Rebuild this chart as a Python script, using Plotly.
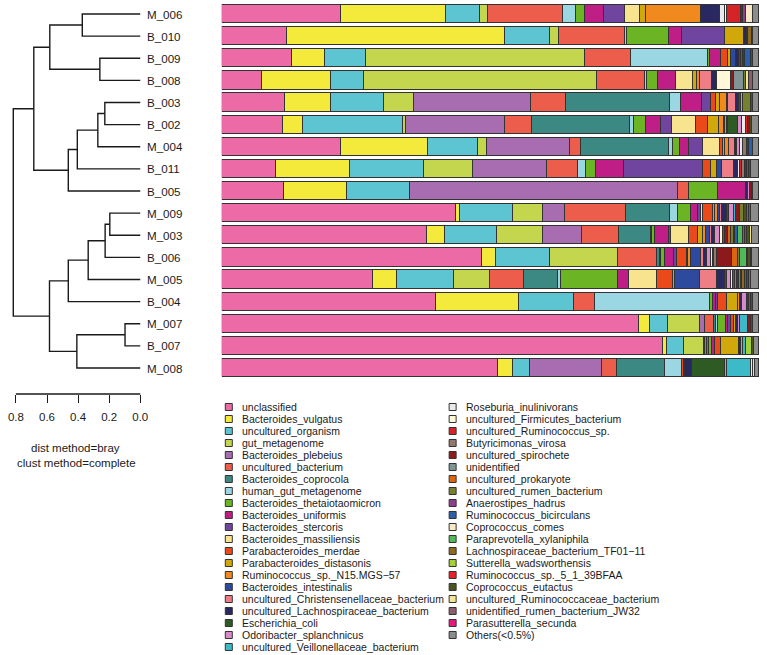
import plotly.graph_objects as go

W, H = 767, 655

samples = ['M_006', 'B_010', 'B_009', 'B_008', 'B_003', 'B_002', 'M_004', 'B_011', 'B_005',
           'M_009', 'M_003', 'B_006', 'M_005', 'B_004', 'M_007', 'B_007', 'M_008']

species = ['unclassified', 'Bacteroides_vulgatus', 'uncultured_organism', 'gut_metagenome',
           'Bacteroides_plebeius', 'uncultured_bacterium', 'Bacteroides_coprocola',
           'human_gut_metagenome', 'Bacteroides_thetaiotaomicron', 'Bacteroides_uniformis',
           'Bacteroides_stercoris', 'Bacteroides_massiliensis', 'Parabacteroides_merdae',
           'Parabacteroides_distasonis', 'Ruminococcus_sp._N15.MGS\u221257', 'Bacteroides_intestinalis',
           'uncultured_Christensenellaceae_bacterium', 'uncultured_Lachnospiraceae_bacterium',
           'Escherichia_coli', 'Odoribacter_splanchnicus', 'uncultured_Veillonellaceae_bacterium',
           'Roseburia_inulinivorans', 'uncultured_Firmicutes_bacterium', 'uncultured_Ruminococcus_sp.',
           'Butyricimonas_virosa', 'uncultured_spirochete', 'unidentified', 'uncultured_prokaryote',
           'uncultured_rumen_bacterium', 'Anaerostipes_hadrus', 'Ruminococcus_bicirculans',
           'Coprococcus_comes', 'Paraprevotella_xylaniphila', 'Lachnospiraceae_bacterium_TF01\u221211',
           'Sutterella_wadsworthensis', 'Ruminococcus_sp._5_1_39BFAA', 'Coprococcus_eutactus',
           'uncultured_Ruminococcaceae_bacterium', 'unidentified_rumen_bacterium_JW32',
           'Parasutterella_secunda', 'Others(<0.5%)']

colors = ['#EC6AA5', '#F4EA3B', '#5DC4D1', '#C4D54E', '#A86DB0', '#EC5E4B', '#3C8883',
          '#9BD7E3', '#6BB524', '#C01E87', '#6F45A0', '#F8E38E', '#EA4A1A', '#D1A80B',
          '#F18A1E', '#2D4A9F', '#EE7D86', '#2A2860', '#2E5B23', '#D98BC9', '#3DBAC7',
          '#EAEAEA', '#FFF8D8', '#D52428', '#8F7B6E', '#8C1A1C', '#7F9494', '#DC660F',
          '#76802F', '#8E3E8E', '#2C5FAA', '#F7E9C6', '#52B85C', '#8D6A1F', '#A3D037',
          '#E8202A', '#4D5222', '#F1E596', '#8C5E6C', '#E5187E', '#8C8C8C']

# relative abundance (%) per sample, keys = index into species (legend order)
M_006 = {0: 22.2, 1: 19.4, 2: 6.3, 3: 1.5, 5: 14.0, 7: 2.3, 8: 1.7, 9: 3.6, 10: 3.8, 11: 2.9,
         13: 1.0, 14: 10.3, 17: 3.6, 21: 0.8, 22: 0.5, 23: 2.5, 25: 0.4, 29: 0.6, 31: 1.3, 40: 1.1}
B_010 = {0: 12.1, 1: 40.4, 2: 8.4, 3: 1.6, 5: 12.3, 7: 0.4, 8: 7.8, 9: 2.4, 10: 8.0, 13: 3.5,
         17: 0.5, 29: 0.3, 33: 0.6, 36: 0.3, 40: 1.1}
B_009 = {0: 12.8, 1: 6.1, 2: 7.5, 3: 40.2, 5: 8.5, 7: 14.1, 8: 0.4, 9: 2.0, 12: 1.3, 13: 0.5,
         15: 1.0, 17: 0.5, 18: 0.3, 23: 0.4, 25: 0.4, 30: 1.1, 36: 0.4, 40: 1.1}
B_008 = {0: 7.2, 1: 12.4, 2: 5.9, 3: 41.8, 5: 8.5, 7: 0.4, 8: 1.9, 9: 3.2, 11: 3.2, 13: 0.6,
         14: 0.6, 16: 2.1, 17: 0.9, 22: 2.6, 25: 0.5, 26: 1.7, 28: 0.4, 37: 0.5, 38: 0.8, 40: 1.1}
B_003 = {0: 11.5, 1: 8.3, 2: 9.8, 3: 5.4, 4: 21.3, 5: 6.5, 6: 19.0, 7: 1.9, 9: 3.9, 10: 1.6,
         12: 1.0, 13: 0.6, 14: 1.3, 15: 0.3, 16: 1.3, 17: 0.6, 18: 0.3, 19: 0.4, 28: 1.5,
         36: 0.4, 40: 1.1}
B_002 = {0: 11.2, 1: 3.6, 2: 18.1, 3: 0.6, 4: 18.0, 5: 5.0, 6: 17.9, 7: 0.6, 8: 2.2, 9: 2.8,
         10: 2.1, 11: 4.2, 12: 2.2, 13: 2.0, 14: 0.9, 15: 0.3, 16: 0.3, 17: 0.3, 18: 1.8,
         19: 0.6, 21: 0.8, 23: 0.4, 25: 0.3, 36: 0.3, 40: 1.4}
M_004 = {0: 21.4, 1: 15.7, 2: 9.0, 3: 1.7, 4: 14.9, 5: 2.0, 6: 15.9, 7: 0.8, 8: 1.3, 9: 1.5,
         10: 2.5, 11: 3.2, 12: 0.4, 13: 0.4, 14: 0.7, 16: 1.1, 17: 0.4, 19: 0.5, 21: 0.6,
         24: 0.7, 25: 0.3, 30: 0.8, 40: 1.1}
B_011 = {0: 9.8, 1: 13.4, 2: 13.5, 3: 8.9, 4: 13.4, 5: 5.6, 7: 1.5, 8: 1.9, 9: 5.1, 10: 14.3,
         12: 1.5, 13: 1.0, 15: 0.9, 16: 2.3, 17: 0.6, 21: 0.5, 23: 0.3, 24: 0.5, 25: 0.3,
         30: 0.5, 36: 0.3, 40: 1.5}
B_005 = {0: 11.5, 1: 11.7, 2: 11.7, 4: 49.7, 5: 2.0, 8: 5.4, 9: 5.1, 17: 0.4, 19: 0.4,
         25: 0.3, 36: 0.3, 40: 1.1}
M_009 = {0: 43.4, 1: 0.7, 2: 9.8, 3: 5.6, 4: 4.1, 5: 11.3, 6: 8.1, 7: 1.4, 8: 2.4, 9: 1.3,
         10: 0.6, 11: 0.3, 12: 1.9, 13: 0.5, 14: 0.4, 15: 0.5, 16: 0.4, 17: 0.8, 18: 0.4,
         19: 1.0, 20: 0.3, 25: 0.8, 28: 0.6, 36: 0.6, 38: 0.5, 39: 0.3, 40: 1.5}
M_003 = {0: 38.0, 1: 3.4, 2: 9.6, 3: 8.5, 4: 7.2, 5: 6.9, 6: 5.9, 7: 0.3, 8: 0.5, 9: 2.6,
         10: 0.3, 11: 3.3, 12: 1.7, 13: 1.0, 14: 0.6, 15: 0.6, 16: 0.5, 17: 0.5, 19: 0.9,
         22: 0.6, 23: 0.4, 25: 0.6, 27: 0.5, 28: 0.5, 29: 0.3, 30: 0.4, 32: 1.0, 33: 0.4,
         35: 0.4, 36: 0.5, 37: 0.4, 40: 1.3}
B_006 = {0: 48.2, 1: 2.5, 2: 10.0, 3: 12.7, 5: 7.1, 6: 0.6, 7: 0.3, 8: 0.7, 9: 1.7, 10: 0.4,
         12: 1.9, 13: 0.3, 14: 0.4, 15: 2.0, 16: 0.4, 17: 0.4, 18: 0.3, 19: 0.7, 21: 0.3,
         23: 0.3, 24: 0.4, 25: 2.8, 27: 1.1, 28: 0.4, 32: 1.3, 33: 0.3, 36: 0.4, 37: 0.3, 40: 1.3}
M_005 = {0: 28.0, 1: 4.3, 2: 10.6, 3: 6.6, 5: 6.3, 6: 6.4, 7: 0.5, 8: 10.6, 9: 2.0, 11: 5.1,
         12: 3.0, 13: 0.5, 15: 4.5, 16: 3.2, 17: 1.5, 18: 0.4, 19: 0.7, 21: 0.4, 23: 0.4,
         24: 0.3, 25: 0.3, 27: 0.4, 32: 0.3, 33: 0.4, 35: 0.4, 36: 0.4, 38: 0.4, 40: 1.5}
B_004 = {0: 39.7, 1: 15.3, 2: 10.3, 5: 3.9, 7: 21.2, 8: 0.6, 9: 0.5, 10: 0.5, 12: 1.6, 13: 2.1,
         14: 0.3, 17: 0.5, 19: 0.9, 25: 0.3, 29: 0.3, 36: 0.5, 40: 1.1}
M_007 = {0: 77.4, 1: 2.2, 2: 3.2, 3: 6.0, 4: 0.9, 5: 1.7, 6: 0.3, 7: 0.4, 8: 1.5, 9: 0.4,
         10: 0.5, 12: 0.6, 13: 0.3, 17: 0.5, 19: 0.3, 20: 1.6, 25: 0.5, 36: 0.4, 40: 1.1}
B_007 = {0: 81.1, 1: 0.9, 2: 3.1, 3: 3.6, 4: 0.3, 5: 0.3, 6: 0.3, 8: 0.6, 9: 0.6, 12: 1.1,
         13: 3.2, 17: 0.4, 19: 0.5, 20: 0.4, 34: 1.1, 36: 0.4, 40: 1.0}
M_008 = {0: 51.0, 1: 2.6, 2: 3.3, 4: 13.2, 5: 2.8, 6: 8.8, 7: 3.2, 12: 0.3, 15: 0.3, 17: 1.2,
         18: 6.1, 19: 0.4, 20: 4.4, 21: 0.3, 37: 0.4, 40: 0.8}

abundance = [M_006, B_010, B_009, B_008, B_003, B_002, M_004, B_011, B_005,
             M_009, M_003, B_006, M_005, B_004, M_007, B_007, M_008]

# hierarchical clustering (bray / complete): (child, child, height); leaves 0..16 follow samples
merges = [(0, 1, 0.373), (2, 3, 0.26), (17, 18, 0.582), (4, 5, 0.228), (20, 6, 0.273),
          (21, 7, 0.405), (22, 8, 0.463), (19, 23, 0.685), (9, 10, 0.196), (25, 11, 0.226),
          (26, 12, 0.335), (27, 13, 0.463), (14, 15, 0.098), (29, 16, 0.408), (28, 30, 0.584),
          (24, 31, 0.817)]

dist_ticks = [0.8, 0.6, 0.4, 0.2, 0.0]

FONT = 'Liberation Sans, Arial, Helvetica, sans-serif'
INK = '#1a1a1a'

# pixel layout
ROW0, STEP = 14, 22.125           # centre of first row, row spacing
BAR_L, BAR_R = 223, 763
DEN_L, DEN_R = 5, 145             # pixel span of the dendrogram subplot
DEN_ZERO, DEN_UNIT = 141, 156.25  # x pixel of height 0, pixels per unit height
AXIS_Y = 394                      # pixel row of the distance scale


def fx(p):
    return p / W


def fy(p):
    return 1 - p / H


fig = go.Figure()

# stacked bars
for k, name in enumerate(species):
    fig.add_trace(go.Bar(
        y=samples, x=[a.get(k, 0) for a in abundance], orientation='h',
        name=name, width=0.83,
        marker=dict(color=colors[k], line=dict(color='#333333', width=1)),
        xaxis='x', yaxis='y', hoverinfo='name+x'))

# dendrogram
n = len(samples)
ypos = {i: float(i) for i in range(n)}
hgt = {i: 0.0 for i in range(n)}
dx, dy = [], []
for j, (a, b, h) in enumerate(merges):
    dx += [hgt[a], h, h, hgt[b], None]
    dy += [ypos[a], ypos[a], ypos[b], ypos[b], None]
    ypos[n + j] = (ypos[a] + ypos[b]) / 2
    hgt[n + j] = h
fig.add_trace(go.Scatter(x=dx, y=dy, mode='lines', line=dict(color=INK, width=1.4),
                         xaxis='x2', yaxis='y2', hoverinfo='skip'))

# legend squares
leg_x = [230 if i < 21 else 455 for i in range(len(species))]
leg_y = [407 + 12 * (i % 21) for i in range(len(species))]
fig.add_trace(go.Scatter(x=leg_x, y=leg_y, mode='markers',
                         marker=dict(symbol='square', size=7, color=colors,
                                     line=dict(color='#333333', width=1)),
                         xaxis='x3', yaxis='y3', hoverinfo='skip'))

ann = []
for i, s in enumerate(samples):
    ann.append(dict(x=0, y=i, xref='x2', yref='y2', text=s, showarrow=False,
                    xanchor='left', xshift=5, font=dict(size=11.6, color=INK)))
for i, s in enumerate(species):
    ann.append(dict(x=leg_x[i] + 11, y=leg_y[i], xref='x3', yref='y3', text=s, showarrow=False,
                    xanchor='left', font=dict(size=10.5, color=INK)))
ann.append(dict(x=fx(76), y=fy(448), xref='paper', yref='paper', text='dist method=bray',
                xanchor='center', yanchor='middle', showarrow=False,
                font=dict(size=11.5, color=INK)))
ann.append(dict(x=fx(77), y=fy(463), xref='paper', yref='paper', text='clust method=complete',
                xanchor='center', yanchor='middle', showarrow=False,
                font=dict(size=11.5, color=INK)))

hidden = dict(visible=False, showgrid=False, zeroline=False)
fig.update_layout(
    width=W, height=H, margin=dict(l=0, r=0, t=0, b=0),
    paper_bgcolor='white', plot_bgcolor='rgba(0,0,0,0)',
    font=dict(family=FONT, color=INK), showlegend=False,
    barmode='stack', barnorm='percent', bargap=0,
    xaxis=dict(domain=[fx(BAR_L), fx(BAR_R)], range=[0, 100], anchor='y', **hidden),
    yaxis=dict(domain=[fy(ROW0 + 16.5 * STEP), fy(ROW0 - 0.5 * STEP)], range=[16.5, -0.5],
               type='category', categoryorder='array', categoryarray=samples,
               anchor='x', **hidden),
    xaxis2=dict(domain=[fx(DEN_L), fx(DEN_R)], anchor='y2',
                range=[(DEN_ZERO - DEN_L) / DEN_UNIT, (DEN_ZERO - DEN_R) / DEN_UNIT],
                showgrid=False, zeroline=False, showline=False,
                tickvals=dist_ticks, ticktext=[f'{t:.1f}' for t in dist_ticks],
                ticks='outside', ticklen=8, tickwidth=1.4, tickcolor=INK,
                tickfont=dict(size=11.5, color=INK), ticklabelstandoff=4),
    yaxis2=dict(domain=[fy(AXIS_Y), 1], anchor='x2',
                range=[(AXIS_Y - ROW0) / STEP, -ROW0 / STEP], **hidden),
    xaxis3=dict(domain=[0, 1], range=[0, W], anchor='y3', **hidden),
    yaxis3=dict(domain=[0, 1], range=[H, 0], anchor='x3', **hidden),
    shapes=[dict(type='line', xref='x2', yref='paper', x0=dist_ticks[0], x1=dist_ticks[-1],
                 y0=fy(AXIS_Y), y1=fy(AXIS_Y), line=dict(color=INK, width=1.4))],
    annotations=ann,
)

# the page's default 8px body margin would push the figure off its 767x655 frame
fig.write_html('out.html', config={'displayModeBar': False},
               post_script="document.body.style.margin = '0';")
